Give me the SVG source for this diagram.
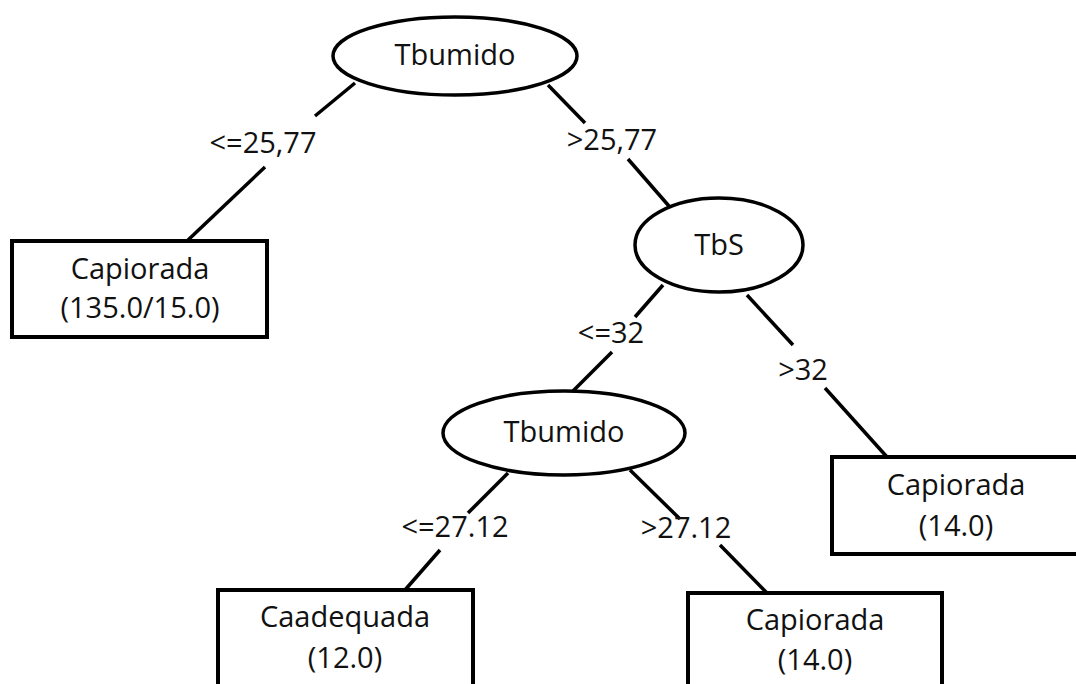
<svg xmlns="http://www.w3.org/2000/svg" width="1076" height="684" viewBox="0 0 1076 684">
<style>
.n{fill:#fff;stroke:#000;stroke-width:3.5}
.b{fill:#fff;stroke:#000;stroke-width:4}
.e{stroke:#000;stroke-width:3.5;fill:none;stroke-linecap:butt}
text{font-family:"Open Sans","Liberation Sans",sans-serif;font-size:29px;fill:#111;text-anchor:middle}
</style>
<rect width="1076" height="684" fill="#fff"/>
<g id="connectors">
<line class="e" x1="355" y1="83" x2="315" y2="116"/>
<line class="e" x1="265" y1="167" x2="187" y2="241"/>
<line class="e" x1="548" y1="85" x2="585" y2="123"/>
<line class="e" x1="628" y1="159" x2="675" y2="213"/>
<line class="e" x1="663" y1="285" x2="635" y2="317"/>
<line class="e" x1="612" y1="352" x2="573" y2="391"/>
<line class="e" x1="747" y1="295" x2="793" y2="345"/>
<line class="e" x1="825" y1="388" x2="887" y2="457"/>
<line class="e" x1="508" y1="473" x2="468" y2="513"/>
<line class="e" x1="440" y1="550" x2="405" y2="590"/>
<line class="e" x1="630" y1="470" x2="680" y2="519"/>
<line class="e" x1="720" y1="545" x2="767" y2="593"/>
<text x="263" y="153">&lt;=25,77</text>
<text x="612" y="150">&gt;25,77</text>
<text x="611" y="343">&lt;=32</text>
<text x="803" y="380">&gt;32</text>
<text x="455" y="537">&lt;=27.12</text>
<text x="686" y="538">&gt;27.12</text>
</g>
<g id="root">
<ellipse class="n" cx="455" cy="56" rx="122" ry="39"/>
<text x="455" y="65">Tbumido</text>
</g>
<g id="leaf1">
<rect class="b" x="12" y="241" width="255" height="96"/>
<text x="140" y="279">Capiorada</text>
<text x="140" y="318">(135.0/15.0)</text>
</g>
<g id="tbs">
<ellipse class="n" cx="719" cy="245" rx="84" ry="47"/>
<text x="719" y="255">TbS</text>
</g>
<g id="tbumido2">
<ellipse class="n" cx="564" cy="433" rx="121" ry="42"/>
<text x="564" y="442">Tbumido</text>
</g>
<g id="leaf2">
<rect class="b" x="832" y="457" width="250" height="97"/>
<text x="956" y="495">Capiorada</text>
<text x="956" y="536">(14.0)</text>
</g>
<g id="leaf3">
<rect class="b" x="218" y="590" width="255" height="130"/>
<text x="345" y="627">Caadequada</text>
<text x="345" y="668">(12.0)</text>
</g>
<g id="leaf4">
<rect class="b" x="688" y="593" width="254" height="130"/>
<text x="815" y="630">Capiorada</text>
<text x="815" y="670">(14.0)</text>
</g>
</svg>
